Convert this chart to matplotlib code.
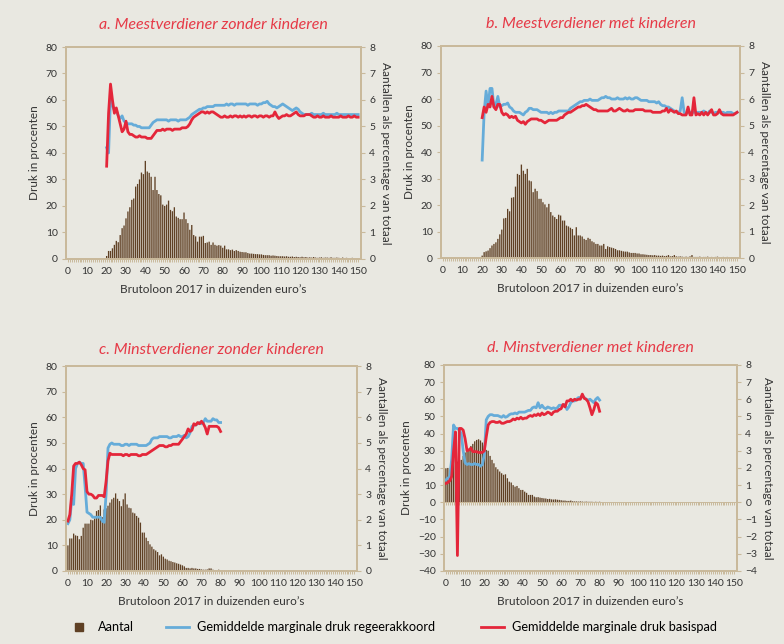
import matplotlib
matplotlib.use('Agg')
import matplotlib.pyplot as plt
from matplotlib.lines import Line2D
import numpy as np

plt.rcParams['font.family'] = ['Lato', 'DejaVu Sans']

BG = '#e9e8e1'
TAN = '#c9b99b'
BROWN = '#5f4024'
BLUE = '#66acd9'
RED = '#e4263a'
TITLE_RED = '#e63a47'
TXT = '#333333'

# ---- panel a: meestverdiener zonder kinderen (x = 20..150) ----
a_bars = [0.11, 0.3, 0.3, 0.4, 0.53, 0.68, 0.63, 0.9, 1.16, 1.26,
          1.53, 1.79, 1.95, 2.23, 2.28, 2.73, 2.83, 3.0, 3.26, 3.2,
          3.7, 3.3, 3.25, 3.1, 2.6, 3.1, 2.6, 2.45, 2.4, 2.05,
          2.0, 2.05, 2.2, 1.85, 1.8, 1.95, 1.6, 1.55, 1.5, 1.5,
          1.75, 1.5, 1.35, 1.1, 1.28, 0.9, 0.85, 0.65, 0.84, 0.84,
          0.87, 0.6, 0.62, 0.65, 0.53, 0.62, 0.53, 0.5, 0.52, 0.5,
          0.42, 0.5, 0.36, 0.36, 0.33, 0.35, 0.3, 0.33, 0.3, 0.27,
          0.26, 0.25, 0.25, 0.22, 0.2, 0.2, 0.19, 0.18, 0.18, 0.17,
          0.17, 0.15, 0.14, 0.14, 0.14, 0.12, 0.13, 0.12, 0.11, 0.1,
          0.1, 0.1, 0.09, 0.1, 0.08, 0.08, 0.09, 0.07, 0.08, 0.07,
          0.06, 0.08, 0.06, 0.07, 0.05, 0.06, 0.05, 0.07, 0.05, 0.04,
          0.05, 0.06, 0.04, 0.05, 0.05, 0.04, 0.06, 0.04, 0.04, 0.05,
          0.04, 0.03, 0.05, 0.03, 0.04, 0.03, 0.03, 0.04, 0.03, 0.03, 0.03]
a_blue = [42, 40, 61, 58, 56, 56, 54, 53, 54, 52,
          51.5, 51, 51, 51, 50.5, 50.5, 50, 50, 49.5, 49.5,
          49.5, 49.5, 49.5, 50.5, 51.5, 52, 52.5, 52.5, 52.5, 52.5,
          52.5, 52.5, 52, 52.5, 52.5, 52.5, 52.5, 52, 52.5, 52.5,
          52.5, 52.5, 53, 53.5, 54.5, 55, 55.5, 56, 56.5, 56.5,
          57, 57, 57.5, 57.5, 57.5, 57.5, 58, 58, 58, 58,
          58, 58, 58.5, 58, 58.5, 58.5, 58, 58.5, 58.5, 58.5,
          58.5, 58.5, 58.5, 58, 58.5, 58.5, 58.5, 58.5, 58, 58.5,
          58.5, 59, 59, 59.5, 58.5, 58, 57.5, 57.5, 57, 57.5,
          58, 58.5, 58, 57.5, 57, 56.5, 56, 56.5, 57, 56.5,
          55.5, 55, 54.5, 54.5, 54.5, 54.5, 55, 54.5, 54.5, 54.5,
          54.5, 54.5, 55, 54.5, 54.5, 54.5, 54.5, 54.5, 54.5, 55,
          54.5, 54.5, 54.5, 54.5, 54.5, 54.5, 54.5, 54.5, 54.5, 54.5, 54.5]
a_red = [35, 55, 66, 60, 55, 57, 54, 51, 48, 49,
         52, 48, 47, 47, 46.5, 46, 46, 46.5, 46, 46,
         46, 45.5, 45.5, 45.5, 46.5, 47.5, 48.5, 48.5, 48.5, 49,
         48.5, 49, 49, 49, 48.5, 49, 49, 49, 49, 49.5,
         49.5, 49.5, 50, 51, 52.5, 53.5, 54, 54.5, 55, 55.5,
         55.5, 55, 55.5, 55, 55.5, 55.5, 55, 54.5, 54, 53.5,
         53.5, 54, 53.5, 53.5, 54, 53.5, 54, 54, 53.5, 54,
         53.5, 54, 53.5, 54, 54, 53.5, 54, 54, 53.5, 54,
         54, 53.5, 54, 54, 53.5, 54, 54, 55.5, 54, 53,
         53.5, 54, 54, 54.5, 54, 54, 54.5, 55, 55.5, 54.5,
         54, 54, 54, 54.5, 54.5, 54.5, 54, 53.5, 53.5, 54,
         53.5, 53.5, 54, 53.5, 53.5, 53.5, 54, 53.5, 53.5, 53.5,
         53.5, 54, 53.5, 53.5, 53.5, 54, 53.5, 53.5, 54, 53.5, 53.5]

# ---- panel b: meestverdiener met kinderen (x = 20..150) ----
b_bars = [0.1, 0.23, 0.26, 0.29, 0.38, 0.48, 0.54, 0.6, 0.73, 0.9,
          1.08, 1.5, 1.52, 1.86, 1.77, 2.28, 2.3, 2.7, 3.18, 3.14,
          3.53, 3.3, 3.18, 3.37, 2.93, 2.9, 2.49, 2.62, 2.53, 2.24,
          2.24, 2.11, 2.03, 1.92, 2.05, 1.74, 1.61, 1.55, 1.48, 1.64,
          1.61, 1.42, 1.42, 1.23, 1.2, 1.15, 1.1, 0.86, 1.17, 0.86,
          0.86, 0.82, 0.73, 0.69, 0.77, 0.73, 0.64, 0.6, 0.54, 0.54,
          0.48, 0.48, 0.54, 0.35, 0.45, 0.42, 0.4, 0.38, 0.35, 0.3,
          0.3, 0.28, 0.26, 0.25, 0.25, 0.22, 0.2, 0.2, 0.2, 0.18,
          0.18, 0.15, 0.15, 0.14, 0.13, 0.12, 0.12, 0.11, 0.12, 0.1,
          0.1, 0.09, 0.1, 0.08, 0.09, 0.12, 0.07, 0.08, 0.12, 0.07,
          0.06, 0.07, 0.06, 0.05, 0.06, 0.05, 0.07, 0.12, 0.05, 0.05,
          0.05, 0.06, 0.04, 0.05, 0.05, 0.06, 0.04, 0.05, 0.04, 0.05,
          0.06, 0.04, 0.04, 0.05, 0.04, 0.05, 0.04, 0.03, 0.04, 0.03, 0.03]
b_blue = [37, 55, 63, 57, 64, 64, 57, 58, 61, 57,
          57.5, 58, 58, 58.5, 57, 56.5, 55.5, 55, 55, 55,
          54.5, 54, 55, 55.5, 56.5, 56.5, 56, 56, 56, 55.5,
          55, 55, 55, 55, 54.5, 55, 54.5, 55, 55, 55.5,
          55.5, 55.5, 55.5, 55.5, 55.5, 56.5, 57, 57.5, 58, 58.5,
          59, 59, 59.5, 59.5, 59.5, 60, 59.5, 59.5, 59.5, 59.5,
          60, 60.5, 60.5, 61, 60.5, 60.5, 60, 60, 60, 60.5,
          60, 60, 60, 60.5, 60, 60.5, 60, 60, 60.5, 60.5,
          60, 59.5, 59.5, 59.5, 59.5, 59, 59, 59, 59, 58.5,
          59, 58, 57.5, 57.5, 57, 57, 56.5, 56, 55.5, 55,
          55, 55.5, 60.5, 55, 54.5, 55, 55, 55, 55, 55,
          55, 55, 55, 55.5, 55, 54.5, 55.5, 55, 54.5, 55,
          55, 55, 55, 55, 54.5, 55, 55, 55, 54.5, 54.5, 55]
b_red = [53, 57, 55, 58, 57, 61, 57, 56, 58, 58,
         55, 54, 54.5, 54, 53, 53.5, 53, 53.5, 52, 51.5,
         51, 51.5, 50.5, 51.5, 52, 52.5, 52.5, 52.5, 52.5, 52,
         52, 51.5, 51, 51.5, 52, 52, 52, 52, 52, 52.5,
         53, 53, 54, 54.5, 55, 55, 55.5, 56, 56.5, 57,
         57, 57.5, 57.5, 58, 57.5, 57, 56.5, 56, 56, 55.5,
         55.5, 55.5, 55.5, 55.5, 55.5, 56, 56.5, 55.5, 55.5, 56,
         56.5, 56, 55.5, 55.5, 56, 55.5, 55.5, 55.5, 56, 56,
         56, 56, 56, 55.5, 55.5, 55.5, 55.5, 55, 55, 55,
         55, 55, 55.5, 55.5, 56.5, 55, 56, 55.5, 55, 55.5,
         54.5, 54.5, 54, 54, 54, 57, 54, 54, 60.5, 54,
         54.5, 54, 55, 54, 55, 54, 55, 56, 54, 54,
         54.5, 56, 54.5, 54, 54, 54, 54, 54, 54, 54.5, 55]

# ---- panel c: minstverdiener zonder kinderen (x = 0..) ----
c_bars = [1.0, 1.27, 1.27, 1.46, 1.39, 1.37, 1.24, 1.37, 1.69, 1.85,
          1.85, 1.85, 2.0, 1.98, 2.05, 2.34, 2.38, 2.56, 2.1, 2.4,
          2.45, 2.55, 2.67, 2.8, 2.86, 3.03, 2.82, 2.73, 2.53, 2.8,
          3.03, 2.6, 2.47, 2.45, 2.28, 2.25, 2.15, 2.08, 1.89, 1.5,
          1.5, 1.3, 1.17, 1.04, 0.95, 0.85, 0.8, 0.74, 0.61, 0.65,
          0.56, 0.48, 0.45, 0.4, 0.38, 0.35, 0.33, 0.3, 0.28, 0.25,
          0.22, 0.18, 0.12, 0.12, 0.1, 0.12, 0.1, 0.1, 0.08, 0.08,
          0.06, 0.05, 0.05, 0.06, 0.1, 0.1, 0.05, 0.03, 0.03, 0.05,
          0.02, 0.02, 0.02, 0.01, 0.02, 0.01, 0.01, 0.02, 0.01, 0.01, 0.02]
c_blue = [18.5, 20, 28, 26, 40, 42, 42.5, 42, 42, 33,
          23, 22.5, 22, 21, 21, 21, 21, 21, 19.5, 19,
          30, 48, 49.5, 50, 49.5, 49.5, 49.5, 49.5, 49, 49,
          49.5, 49.5, 49, 49.5, 49.5, 49.5, 49.5, 49, 49, 49,
          49, 49, 49.5, 50, 51.5, 52, 52, 52, 52.5, 52.5,
          52.5, 52.5, 52.5, 52, 52, 52.5, 52.5, 52.5, 53, 52.5,
          52.5, 53, 52, 52.5, 54, 56.5, 57, 57, 57.5, 58,
          57.5, 58, 59.5, 58.5, 58.5, 58.5, 59.5, 59, 59, 58, 58]
c_red = [19.5, 22, 30, 41, 42, 42, 42.5, 41.5, 40, 39.5,
         31, 30, 30, 29.5, 28.5, 28.5, 29.5, 29.5, 29.5, 29,
         35, 43, 46, 45.5, 45.5, 45.5, 45.5, 45.5, 45.5, 45,
         45.5, 45.5, 45, 45.5, 45.5, 45.5, 45.5, 45, 45, 45.5,
         45.5, 45.5, 46, 46.5, 47, 47.5, 48, 48.5, 49, 49,
         49, 48.5, 48.5, 49, 49, 49.5, 49.5, 49.5, 49.5, 50.5,
         51.5, 52.5, 53.5, 55.5, 54.5, 55, 57.5, 57, 58, 57.5,
         58.5, 57.5, 56, 53.5, 56.5, 56.5, 56.5, 56.5, 56.5, 56, 54.5]

# ---- panel d: minstverdiener met kinderen (x = 0..80) ----
d_bars = [1.98, 2.0, 1.5, 2.8, 2.8, 2.5, 2.37, 2.4, 2.47, 2.7,
          2.9, 2.95, 3.05, 3.28, 3.4, 3.55, 3.63, 3.67, 3.6, 3.48,
          3.3, 3.05, 3.0, 2.7, 2.47, 2.27, 2.04, 1.92, 1.79, 1.69,
          1.6, 1.63, 1.4, 1.2, 1.15, 1.0, 0.91, 0.95, 0.82, 0.72,
          0.72, 0.62, 0.55, 0.43, 0.43, 0.43, 0.33, 0.29, 0.3, 0.27,
          0.25, 0.23, 0.22, 0.19, 0.2, 0.17, 0.16, 0.17, 0.15, 0.14,
          0.12, 0.1, 0.1, 0.08, 0.08, 0.1, 0.06, 0.05, 0.05, 0.04,
          0.05, 0.04, 0.03, 0.04, 0.03, 0.03, 0.03, 0.02, 0.03, 0.02, 0.03]
d_blue = [13, 14, 15, 25, 45, 43, 43, 42, 40, 30,
          23, 22, 22.5, 22, 22, 22.5, 22, 22, 21, 22,
          28, 48, 50, 51, 51, 50.5, 50.5, 50.5, 50, 49.5,
          50.5, 49.5, 50, 51, 51.5, 51.5, 52, 51.5, 52.5, 52.5,
          52.5, 52.5, 53, 53.5, 53.5, 55, 55.5, 55, 58, 55,
          56.5, 55, 54.5, 55.5, 55, 54.5, 55, 54.5, 55, 56.5,
          56.5, 56.5, 57, 54, 55.5, 58, 59, 59, 60, 61,
          61, 62, 61, 60, 59.5, 60, 59, 58, 60, 61, 59.5]
d_red = [11, 11.5, 12.5, 15, 30, 41, -31, 43, 43, 42,
         37, 30, 30.5, 31.5, 29.5, 29.5, 29.5, 29, 29, 29,
         30, 38, 45, 46.5, 47, 47, 46.5, 46.5, 47, 46,
         46, 46.5, 47, 47, 47.5, 48.5, 48, 49, 48.5, 49.5,
         48.5, 49, 49, 50, 50.5, 50, 51, 50.5, 51.5, 50.5,
         52, 51, 51.5, 52.5, 52, 51, 52.5, 53, 53, 54,
         54.5, 57, 55.5, 59, 59, 60, 59, 60, 59.5, 60,
         60, 63, 60.5, 60, 58.5, 55, 51, 54, 58, 57, 53]

TITLES = ['a. Meestverdiener zonder kinderen', 'b. Meestverdiener met kinderen',
          'c. Minstverdiener zonder kinderen', 'd. Minstverdiener met kinderen']
XLABEL = 'Brutoloon 2017 in duizenden euro\u2019s'
YLABEL_L = 'Druk in procenten'
YLABEL_R = 'Aantallen als percentage van totaal'
LEGEND_LABELS = ['Aantal', 'Gemiddelde marginale druk regeerakkoord',
                 'Gemiddelde marginale druk basispad']


def style_xaxis(axis_obj):
    axis_obj.set_xticks(np.arange(0, 151, 10))
    axis_obj.set_xticks(np.arange(0, 151, 1), minor=True)


def draw_panel(ax, title, bar_start, bars, line_start, blue, red, lim_l, lim_r, title_pad):
    ax2 = ax.twinx()
    xb = np.arange(bar_start, bar_start + len(bars))
    ax2.bar(xb, bars, width=0.68, color=BROWN, linewidth=0, snap=False)
    xl = np.arange(line_start, line_start + len(blue))
    ax.plot(xl, blue, color=BLUE, lw=2.0, solid_joinstyle='round')
    ax.plot(xl, red, color=RED, lw=2.0, solid_joinstyle='round')
    ax.set_zorder(ax2.get_zorder() + 1)
    ax.patch.set_visible(False)
    ax2.patch.set_visible(False)

    ax.set_xlim(-1, 151.5)
    ax.set_ylim(*lim_l)
    ax2.set_ylim(*lim_r)
    ax.set_yticks(np.arange(lim_l[0], lim_l[1] + 1, 10))
    ax2.set_yticks(np.arange(lim_r[0], lim_r[1] + 0.1, 1))
    style_xaxis(ax)

    for a in (ax, ax2):
        for s in a.spines.values():
            s.set_color(TAN)
            s.set_linewidth(1.3)
        a.tick_params(axis='y', direction='out', length=3, width=0.8, color=TAN,
                      labelcolor=TXT, labelsize=7.5, pad=3)
    ax.tick_params(axis='x', which='both', direction='out', length=2.5, width=0.7,
                   color=TAN, labelcolor=TXT, labelsize=7.5, pad=3)

    ax.set_title(title, color=TITLE_RED, style='italic', fontsize=11.5, pad=title_pad)
    ax.set_xlabel(XLABEL, fontsize=8.5, color=TXT, labelpad=6)
    ax.set_ylabel(YLABEL_L, fontsize=8.5, color=TXT, labelpad=4)
    ax2.set_ylabel(YLABEL_R, fontsize=8.5, color=TXT, rotation=270, labelpad=11)
    return ax2


fig = plt.figure(figsize=(7.84, 6.44), dpi=100, facecolor=BG)

ax_a = fig.add_axes([0.0842, 0.598, 0.3763, 0.329])
ax_b = fig.add_axes([0.5625, 0.599, 0.3814, 0.3296])
ax_c = fig.add_axes([0.0842, 0.1134, 0.3712, 0.318])
ax_d = fig.add_axes([0.5663, 0.1134, 0.3737, 0.32])

draw_panel(ax_a, TITLES[0], 20, a_bars, 20, a_blue, a_red, (0, 80), (0, 8), 13)
draw_panel(ax_b, TITLES[1], 20, b_bars, 20, b_blue, b_red, (0, 80), (0, 8), 13)
draw_panel(ax_c, TITLES[2], 0, c_bars, 0, c_blue, c_red, (0, 80), (0, 8), 9)
draw_panel(ax_d, TITLES[3], 0, d_bars, 0, d_blue, d_red, (-40, 80), (-4, 8), 9)

# zero line with tick marks in panel d
sec = ax_d.secondary_xaxis(1 / 3)
style_xaxis(sec)
sec.tick_params(axis='x', which='both', direction='out', length=2.5, width=0.7,
                color=TAN, labelbottom=False, labeltop=False)
for s in sec.spines.values():
    s.set_color(TAN)
    s.set_linewidth(0.7)

# legend in two parts, so the gap before the last entry can be wider
leg_kw = dict(loc='center left', frameon=False, fontsize=9.2, handlelength=1.8,
              handletextpad=0.6, columnspacing=2.5, borderpad=0, borderaxespad=0)
h_bar = Line2D([], [], marker='s', linestyle='none', color=BROWN, markersize=6)
h_blue = Line2D([], [], color=BLUE, lw=2)
h_red = Line2D([], [], color=RED, lw=2)
fig.legend([h_bar, h_blue], LEGEND_LABELS[:2], bbox_to_anchor=(0.086, 0.026), ncol=2, **leg_kw)
fig.legend([h_red], LEGEND_LABELS[2:], bbox_to_anchor=(0.614, 0.026), ncol=1, **leg_kw)

fig.savefig('out.png', dpi=100, facecolor=BG)
